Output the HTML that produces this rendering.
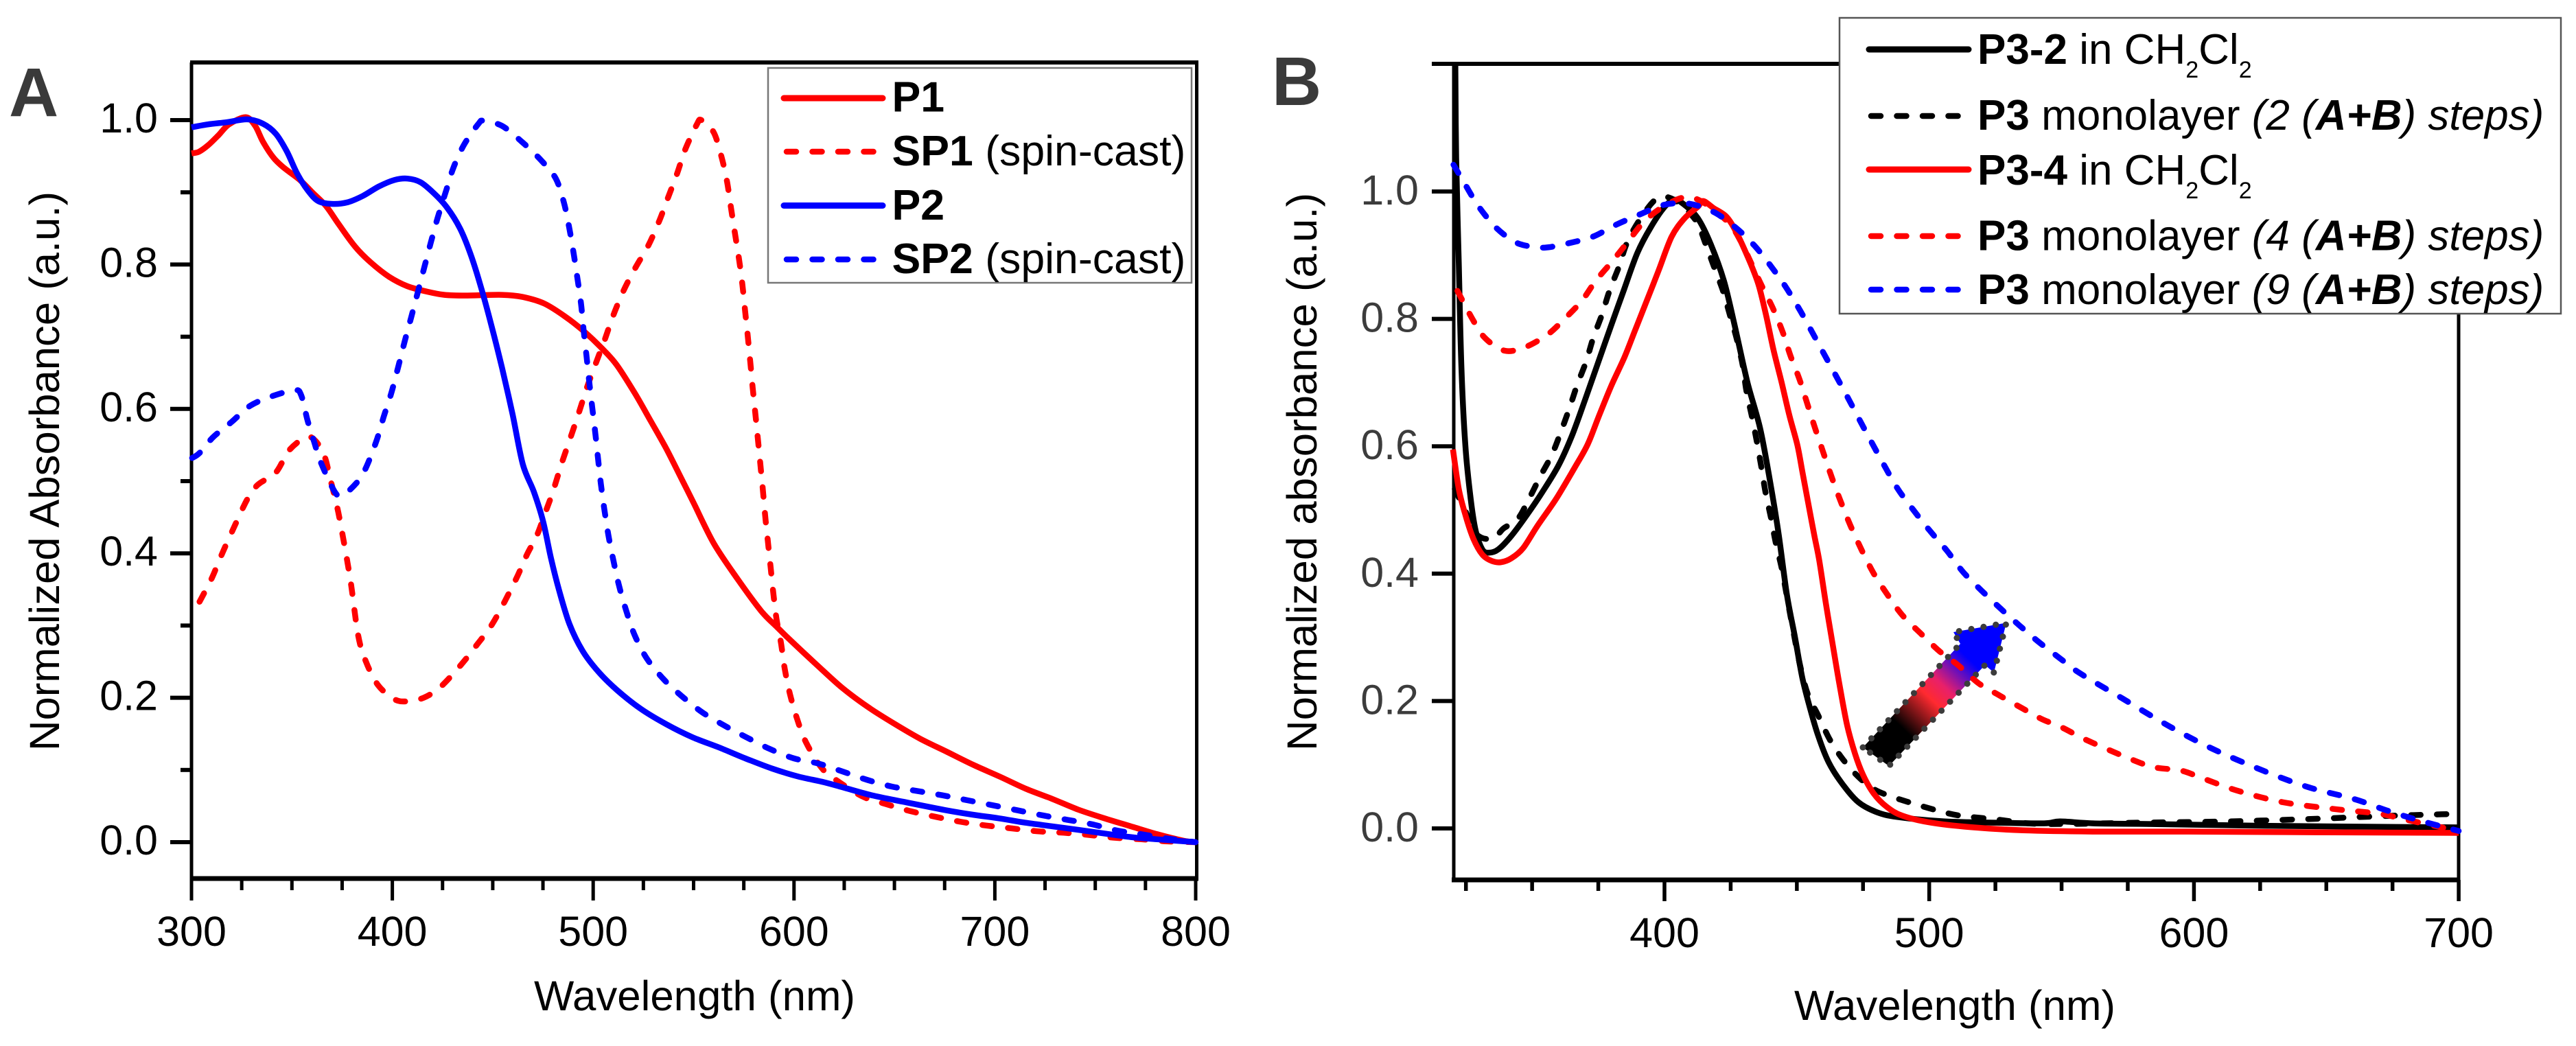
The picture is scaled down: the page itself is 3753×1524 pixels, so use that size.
<!DOCTYPE html>
<html><head><meta charset="utf-8"><title>Normalized absorbance spectra</title>
<style>
html,body{margin:0;padding:0;background:#fff;width:3753px;height:1524px;overflow:hidden}
svg{display:block}
text{font-family:"Liberation Sans",Arial,sans-serif;font-size:61px;fill:#000}
.la text{font-size:62.6px}
.lb text{font-size:62px}
.b{font-weight:bold}.i{font-style:italic}.bi{font-weight:bold;font-style:italic}
.lb .sub{font-size:34px}
</style></head>
<body>
<svg id="fig" xmlns="http://www.w3.org/2000/svg" width="3753" height="1524" viewBox="0 0 3753 1524">
<defs>
<linearGradient id="arrowGrad" gradientUnits="userSpaceOnUse" x1="2735" y1="1100" x2="2922" y2="907">
<stop offset="0.2" stop-color="#000"/><stop offset="0.42" stop-color="#ff2a30"/><stop offset="0.52" stop-color="#e8206a"/><stop offset="0.72" stop-color="#0000ff"/>
</linearGradient>
</defs>
<g id="panelA">
<text x="13" y="169" style="font-size:100px;font-weight:bold;fill:#3a3a3a">A</text>
<text transform="translate(86,1094) rotate(-90)" textLength="815" lengthAdjust="spacingAndGlyphs">Normalized Absorbance (a.u.)</text>
<text x="778" y="1472" textLength="468" lengthAdjust="spacingAndGlyphs">Wavelength (nm)</text>
<g id="axesA"></g>
<g id="curvesA"></g>
<g class="la">
<rect x="1119" y="99" width="617" height="313" fill="#fff" stroke="#777" stroke-width="2.5"/>
<g><line x1="1142" x2="1286" y1="143" y2="143" stroke="#f00" stroke-width="9" stroke-linecap="round"/><text x="1299.5" y="162.5" class="b">P1</text></g>
<g><line x1="1146" x2="1281" y1="221" y2="221" stroke="#f00" stroke-width="8.5" stroke-linecap="round" stroke-dasharray="14 23.5"/><text x="1299.5" y="241"><tspan class="b">SP1</tspan> (spin-cast)</text></g>
<g><line x1="1142" x2="1286" y1="299.5" y2="299.5" stroke="#00f" stroke-width="9" stroke-linecap="round"/><text x="1299.5" y="320" class="b">P2</text></g>
<g><line x1="1146" x2="1281" y1="378" y2="378" stroke="#00f" stroke-width="8.5" stroke-linecap="round" stroke-dasharray="14 23.5"/><text x="1299.5" y="398"><tspan class="b">SP2</tspan> (spin-cast)</text></g>
</g>
</g>
<g id="panelB">
<text x="1853" y="153" style="font-size:100px;font-weight:bold;fill:#3a3a3a">B</text>
<text transform="translate(1918,1094) rotate(-90)" textLength="813" lengthAdjust="spacingAndGlyphs">Normalized absorbance (a.u.)</text>
<text x="2614" y="1486" textLength="468" lengthAdjust="spacingAndGlyphs">Wavelength (nm)</text>
<g id="axesB"></g>
<path d="M2714 1089 L2856 938 L2846 921 L2923 907.5 L2905 980 L2892 969 L2752 1116 Z" fill="url(#arrowGrad)" stroke="#3c3c3c" stroke-width="9" stroke-linecap="round" stroke-linejoin="round" stroke-dasharray="0.1 18"/>
<g id="curvesB"></g>
<g class="lb">
<rect x="2680" y="26" width="1051" height="431" fill="#fff" stroke="#555" stroke-width="2.5"/>
<g><line x1="2723" x2="2868" y1="72" y2="72" stroke="#000" stroke-width="9" stroke-linecap="round"/><text x="2881" y="93"><tspan class="b">P3-2</tspan> in CH<tspan class="sub" dy="20">2</tspan><tspan dy="-20">Cl</tspan><tspan class="sub" dy="20">2</tspan></text></g>
<g><line x1="2726" x2="2858" y1="169" y2="169" stroke="#000" stroke-width="8.5" stroke-linecap="round" stroke-dasharray="14 23.5"/><text x="2881" y="189"><tspan class="b">P3</tspan> monolayer <tspan class="i">(2 (</tspan><tspan class="bi">A+B</tspan><tspan class="i">) steps)</tspan></text></g>
<g><line x1="2723" x2="2868" y1="247" y2="247" stroke="#f00" stroke-width="9" stroke-linecap="round"/><text x="2881" y="269"><tspan class="b">P3-4</tspan> in CH<tspan class="sub" dy="20">2</tspan><tspan dy="-20">Cl</tspan><tspan class="sub" dy="20">2</tspan></text></g>
<g><line x1="2726" x2="2858" y1="344" y2="344" stroke="#f00" stroke-width="8.5" stroke-linecap="round" stroke-dasharray="14 23.5"/><text x="2881" y="364.5"><tspan class="b">P3</tspan> monolayer <tspan class="i">(4 (</tspan><tspan class="bi">A+B</tspan><tspan class="i">) steps)</tspan></text></g>
<g><line x1="2726" x2="2858" y1="422" y2="422" stroke="#00f" stroke-width="8.5" stroke-linecap="round" stroke-dasharray="14 23.5"/><text x="2881" y="443"><tspan class="b">P3</tspan> monolayer <tspan class="i">(9 (</tspan><tspan class="bi">A+B</tspan><tspan class="i">) steps)</tspan></text></g>
</g>
</g>
</svg>
<script>
// Panel A data
const aXTicks=[300,400,500,600,700,800];
const aXMinor=[325,350,375,425,450,475,525,550,575,625,650,675,725,750,775];
const aYTicks=[0,0.2,0.4,0.6,0.8,1.0];
const aYLabels=['0.0','0.2','0.4','0.6','0.8','1.0'];
const aYMinor=[0.1,0.3,0.5,0.7,0.9];
const p1Nm=[300,303.6,308.2,313.4,318.6,327,331.7,335.6,340.8,346,354,360.5,367,373.5,381.4,389.2,398.4,407.5,418,426,436.3,454.6,465,475.6,486,495.2,504.3,511.7,520.9,528.7,536.6,544.4,550,560,572,583.7,591.5,597.7,610.8,623.9,636.9,650,663,676.2,689.3,702.3,715.4,728.5,741.6,754.6,767.7,780.8,793.9,800];
const p1Abs=[.954,.956,.965,.979,.994,1.004,.992,.970,.948,.934,.917,.899,.881,.855,.825,.803,.783,.770,.762,.758,.757,.758,.755,.746,.728,.708,.684,.661,.621,.583,.544,.501,.470,.414,.364,.32,.298,.281,.247,.214,.187,.164,.143,.125,.107,.091,.074,.06,.045,.033,.022,.011,.002,0];
const sp1Nm=[304,310,315,321,327.8,333,342,348.7,357.2,362,366.3,369,371.6,374,379,383,387,393,401,407,415.6,424,434,442,450.4,461,467,472,476.4,480,484.5,488.8,492.8,496.7,501.3,505.9,509.8,515,520.9,527.4,532.7,537.2,541.8,545.8,551.6,553.9,560,564,566.7,568.6,570.6,572.6,574.3,575.6,576.9,578.2,579.4,580.7,582,583.5,584.5,585.6,587,588.3,589.6,591.3,593.5,595.4,598,601.5,606,614,622.6,634.3,645.4,657.9,670.7,683.4,695.8,708.6,721.3,734.4,746.8,760,773,786,800];
const sp1Abs=[.333,.365,.398,.435,.475,.495,.512,.543,.561,.555,.534,.504,.475,.444,.365,.286,.249,.217,.198,.195,.2,.215,.245,.273,.305,.361,.398,.425,.458,.486,.526,.561,.594,.628,.663,.697,.728,.763,.795,.826,.859,.892,.926,.959,.994,1.0,.983,.948,.914,.879,.843,.808,.772,.737,.703,.666,.630,.595,.559,.516,.488,.453,.416,.382,.347,.309,.276,.24,.205,.171,.138,.102,.083,.063,.053,.043,.035,.028,.023,.019,.015,.013,.01,.006,.004,.001,0];
const p2Nm=[300,308,317.3,327.8,335.6,342,347.4,352.6,357.8,363,369.6,377.5,385.3,393.2,401,407.5,414,420.6,427.2,433.7,439,444,449.4,454.6,459.9,465,470.5,475.1,479,483,488.2,494.7,502.6,511.7,523.5,536.6,549.7,562.8,575.8,589,602,615,625.5,638.6,654.3,676,689,702,715,728.5,741.6,754.6,767.7,780.8,800];
const p2Abs=[.990,.994,.997,1.001,.995,.981,.957,.926,.903,.888,.884,.886,.895,.908,.917,.919,.914,.899,.879,.850,.814,.770,.715,.657,.592,.523,.485,.444,.393,.349,.302,.265,.236,.211,.185,.163,.145,.131,.116,.102,.091,.083,.075,.065,.056,.044,.038,.033,.027,.022,.017,.012,.007,.004,0];
const sp2Nm=[300.3,304,310.8,320,329,339.5,351.3,354.6,357.8,361,364.4,371.6,375.5,382,386.6,392,395.8,399.7,403,406.2,409.5,412.8,416,419.3,422.6,427.2,430.4,435.7,442.9,445.5,454.6,464.5,474.2,481.4,485.4,488,490.3,492.2,494,495.2,496.6,498,499.5,501,502.4,503.8,505.5,507.6,510,512.8,516.3,520.6,526.8,535.3,544.2,554.2,565,576.5,588,600,612,624,636.7,648.7,661,673.6,686.4,699,711.5,724,736,748,761,773,786,800];
const sp2Abs=[.532,.539,.561,.582,.604,.617,.626,.619,.584,.555,.526,.484,.481,.497,.517,.555,.590,.624,.659,.694,.728,.763,.797,.832,.865,.906,.934,.966,.995,.999,.992,.970,.944,.919,.886,.852,.815,.780,.745,.710,.675,.639,.603,.568,.532,.497,.462,.425,.391,.356,.322,.287,.254,.225,.202,.18,.162,.145,.129,.116,.109,.098,.086,.077,.071,.065,.058,.051,.044,.037,.031,.025,.016,.011,.005,0];
// Panel B data
const bXTicks=[400,500,600,700];
const bXMinor=[325,350,375,425,450,475,525,550,575,625,650,675];
const bYTicks=[0,0.2,0.4,0.6,0.8,1.0];
const bYLabels=['0.0','0.2','0.4','0.6','0.8','1.0'];
const p32Nm=[321,321.3,322.3,323.3,324.8,326.8,328.7,331.2,333.7,337.2,342.1,348,354,360,365,370,374.9,379.8,384.8,389.8,394.7,399.7,403.6,407.6,412.6,417.5,422.5,426.5,431.3,436.3,440.7,443.2,446.2,449.2,452.1,455.1,458.1,462,467,473,479.9,487.9,505.7,525.5,543.4,549.4,562,582,629,700];
const p32Abs=[1.2,1.053,.888,.723,.6,.517,.467,.438,.433,.438,.459,.492,.529,.570,.616,.673,.731,.789,.847,.904,.943,.974,.987,.979,.958,.917,.859,.79,.701,.625,.525,.46,.368,.302,.236,.187,.145,.104,.071,.042,.026,.018,.011,.009,.008,.011,.008,.007,.004,.0016];
const m2Nm=[320.8,324.8,329.2,335.2,339.2,344.6,349,353,357.5,361,364.2,367,370.4,373.1,376.4,379.3,382.8,385.8,390.7,397.2,403.6,411.6,415.6,418.5,422,424.7,427.2,429.5,430.9,433,434.9,436.6,438.2,440.2,442,444.2,446,447.7,451,454.1,458,462.5,467.5,473.5,479.4,486.4,494.8,503.2,511.7,525.5,537.5,551,579,613,645,676,700];
const m2Abs=[.533,.498,.461,.455,.471,.486,.519,.552,.587,.624,.661,.696,.733,.770,.807,.845,.882,.919,.956,.989,.987,.956,.917,.884,.845,.806,.770,.728,.688,.647,.607,.567,.527,.488,.449,.41,.37,.331,.26,.211,.178,.139,.108,.08,.061,.049,.038,.028,.02,.014,.008,.007,.009,.011,.015,.02,.023];
const p34Nm=[320.1,322.3,324.8,327.8,331.2,334.7,338.2,342.1,346.6,352,359,366,371,374.9,379.8,384.8,388.8,392.7,397.7,402.7,407.6,412.6,414.6,418.5,423.5,427.5,432.4,435.5,438.2,441.2,444.2,447.2,450.2,452.1,454.1,456.6,458.5,461,463.5,466,469,472,475,479,483.9,489.8,500.7,515.6,535.5,562,598,645,700];
const p34Abs=[.595,.533,.492,.455,.430,.420,.418,.424,.440,.475,.517,.566,.603,.644,.694,.739,.781,.822,.875,.929,.958,.976,.985,.974,.960,.933,.888,.854,.809,.751,.701,.648,.602,.56,.515,.46,.42,.352,.29,.228,.162,.117,.084,.055,.034,.02,.009,.002,-.003,-.005,-.005,-.006,-.007];
const m4Nm=[321.8,327.3,332.2,339.7,347.6,356,362,368.7,373.9,379.8,385.8,391.7,398.7,407.6,414.6,423.5,428.4,436.4,440.8,444.6,447.6,451,454,457,460,463.2,466.5,470.3,474.5,479.2,484.4,489.8,496.8,504.2,510.7,518.6,526,535,542.4,550.4,559.3,576,585,595,602.5,616.6,633.8,654,670,682,700];
const m4Abs=[.844,.801,.770,.750,.756,.776,.799,.828,.859,.888,.919,.950,.974,.991,.983,.954,.925,.855,.818,.780,.742,.705,.666,.627,.590,.551,.514,.475,.437,.399,.366,.335,.306,.277,.257,.228,.21,.189,.172,.158,.139,.109,.096,.091,.08,.059,.041,.03,.023,.012,-.004];
const m9Nm=[320.3,324.3,329.7,336.2,342.6,347.6,355,364,372.9,381.8,390.7,399.7,409,418.5,427,434,439.8,445.5,450.7,455.4,460,464.6,469.3,474,478.4,483.4,488.3,494,500.3,506.7,512.7,519.6,527,534,541,549.4,556.8,573,590,607,626,643,660.6,673,685.6,700];
const m9Abs=[1.042,1.014,.977,.944,.923,.915,.912,.919,.929,.948,.964,.979,.981,.968,.943,.915,.885,.852,.817,.782,.747,.712,.676,.639,.605,.567,.532,.5,.467,.436,.403,.374,.345,.319,.294,.267,.244,.204,.162,.125,.091,.065,.046,.028,.012,-.004];

const NS='http://www.w3.org/2000/svg';
function xA(n){return 279+(n-300)*2.926;}
function yA(v){return 1227-v*1052;}
function xB(n){return 2425+(n-400)*3.857;}
function yB(v){return 1207-v*928;}
function smooth(xs,ys,fx,fy){
  const p=xs.map((x,i)=>[fx(x),fy(ys[i])]);
  let d='M'+p[0][0].toFixed(1)+' '+p[0][1].toFixed(1);
  for(let i=0;i<p.length-1;i++){
    const a=p[Math.max(i-1,0)],b=p[i],c=p[i+1],e=p[Math.min(i+2,p.length-1)];
    const k=0.16;
    d+=' C'+(b[0]+(c[0]-a[0])*k).toFixed(1)+' '+(b[1]+(c[1]-a[1])*k).toFixed(1)+' '+(c[0]-(e[0]-b[0])*k).toFixed(1)+' '+(c[1]-(e[1]-b[1])*k).toFixed(1)+' '+c[0].toFixed(1)+' '+c[1].toFixed(1);
  }
  return d;
}
function mk(tag,attrs,parent){
  const el=document.createElementNS(NS,tag);
  for(const k in attrs)el.setAttribute(k,attrs[k]);
  parent.appendChild(el);
  return el;
}
function curve(parent,name,xs,ys,fx,fy,color,dashed){
  const el=mk('path',{d:smooth(xs,ys,fx,fy),fill:'none',stroke:color,'stroke-width':8.5,'stroke-linejoin':'round','stroke-linecap':dashed?'round':'butt'},parent);
  if(dashed)el.setAttribute('stroke-dasharray','14 23.5');
  
  
}
function tickLine(parent,name,x1,y1,x2,y2,w){
  const el=mk('line',{x1:x1,y1:y1,x2:x2,y2:y2,stroke:'#000','stroke-width':w},parent);
  
  
}
function label(parent,name,x,y,anchor,txt,color){
  const el=mk('text',{x:x,y:y,'text-anchor':anchor,style:'fill:'+color},parent);
  el.textContent=txt;
  
  
}
// Panel A axes
const axA=document.getElementById('axesA');
tickLine(axA,'panel-a-top-axis',277,91,1746,91,6);
tickLine(axA,'panel-a-bottom-axis',277,1280,1746,1280,7);
tickLine(axA,'panel-a-left-axis',279,91,279,1283,5);
tickLine(axA,'panel-a-right-axis',1743.5,91,1743.5,1283,5);
aXTicks.forEach(t=>{
  tickLine(axA,'panel-a-x-tick',xA(t),1280,xA(t),1312,5);
  label(axA,'panel-a-x-tick-label',xA(t),1378,'middle',String(t),'#000');
});
aXMinor.forEach(t=>{tickLine(axA,'panel-a-x-minor-tick',xA(t),1280,xA(t),1297,5);});
aYTicks.forEach((t,i)=>{
  tickLine(axA,'panel-a-y-tick',248,yA(t),279,yA(t),6);
  label(axA,'panel-a-y-tick-label',230,yA(t)+18,'end',aYLabels[i],'#000');
});
aYMinor.forEach(t=>{tickLine(axA,'panel-a-y-minor-tick',263,yA(t),279,yA(t),6);});
// Panel A curves
const cvA=document.getElementById('curvesA');
curve(cvA,'curve-p1',p1Nm,p1Abs,xA,yA,'#f00',false);
curve(cvA,'curve-sp1',sp1Nm,sp1Abs,xA,yA,'#f00',true);
curve(cvA,'curve-p2',p2Nm,p2Abs,xA,yA,'#00f',false);
curve(cvA,'curve-sp2',sp2Nm,sp2Abs,xA,yA,'#00f',true);
// Panel B axes
const axB=document.getElementById('axesB');
tickLine(axB,'panel-b-top-axis',2086,93,3584,93,6);
tickLine(axB,'panel-b-bottom-axis',2115,1282,3584,1282,7);
tickLine(axB,'panel-b-left-axis',2118,93,2118,1285,5);
tickLine(axB,'panel-b-right-axis',3582,93,3582,1285,5);
bXTicks.forEach(t=>{
  tickLine(axB,'panel-b-x-tick',xB(t),1282,xB(t),1313,5.5);
  label(axB,'panel-b-x-tick-label',xB(t),1380,'middle',String(t),'#000');
});
bXMinor.forEach(t=>{tickLine(axB,'panel-b-x-minor-tick',xB(t),1282,xB(t),1298,5.5);});
bYTicks.forEach((t,i)=>{
  tickLine(axB,'panel-b-y-tick',2086,yB(t),2117,yB(t),6);
  label(axB,'panel-b-y-tick-label',2067,yB(t)+19,'end',bYLabels[i],'#3c3c3c');
});
// Panel B curves
const cvB=document.getElementById('curvesB');
curve(cvB,'curve-p3-2-solution',p32Nm,p32Abs,xB,yB,'#000',false);
curve(cvB,'curve-p3-monolayer-2-steps',m2Nm,m2Abs,xB,yB,'#000',true);
curve(cvB,'curve-p3-4-solution',p34Nm,p34Abs,xB,yB,'#f00',false);
curve(cvB,'curve-p3-monolayer-4-steps',m4Nm,m4Abs,xB,yB,'#f00',true);
curve(cvB,'curve-p3-monolayer-9-steps',m9Nm,m9Abs,xB,yB,'#00f',true);
</script>
</body></html>
